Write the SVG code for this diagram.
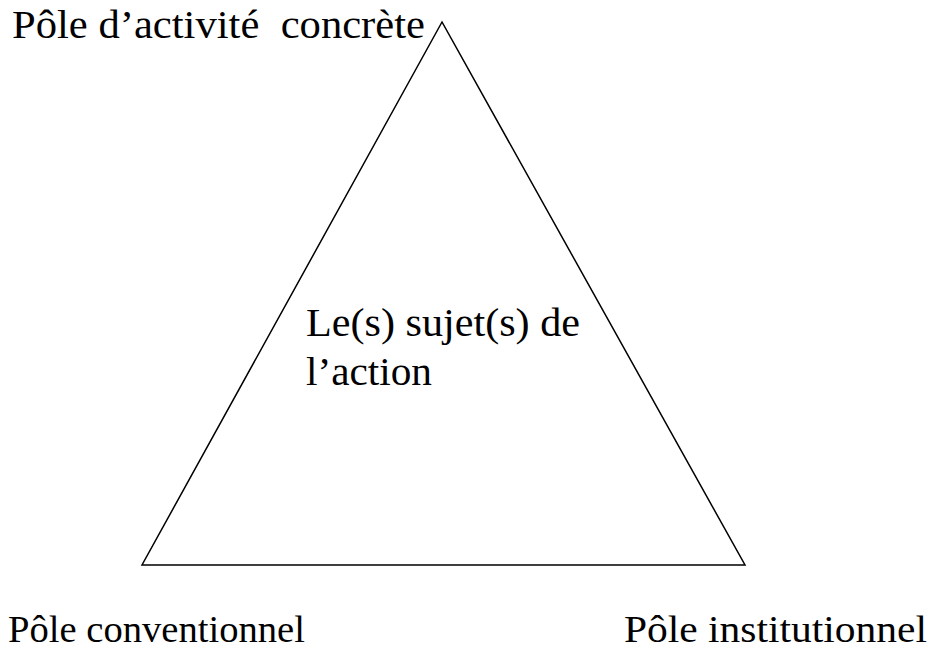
<svg xmlns="http://www.w3.org/2000/svg" width="934" height="651" viewBox="0 0 934 651">
<style>
text{font-family:"Liberation Serif","Times New Roman",serif;font-size:39px;fill:#000}
.bottom{font-size:38px}
.edge{fill:none;stroke:#000;stroke-width:1.5}
</style>
<rect width="934" height="651" fill="#fff"/>
<g id="connectors">
<polygon class="edge" points="442,22 142,565 745,565"/>
</g>
<g id="pole-activite"><text x="12" y="38" textLength="413" lengthAdjust="spacingAndGlyphs" xml:space="preserve">Pôle d’activité  concrète</text></g>
<g id="sujet"><text x="306" y="336" textLength="274" lengthAdjust="spacingAndGlyphs">Le(s) sujet(s) de</text><text x="306" y="385" textLength="126" lengthAdjust="spacingAndGlyphs">l’action</text></g>
<g id="pole-conventionnel"><text class="bottom" x="8" y="642" textLength="297" lengthAdjust="spacingAndGlyphs">Pôle conventionnel</text></g>
<g id="pole-institutionnel"><text class="bottom" x="624" y="642" textLength="303" lengthAdjust="spacingAndGlyphs">Pôle institutionnel</text></g>
</svg>
